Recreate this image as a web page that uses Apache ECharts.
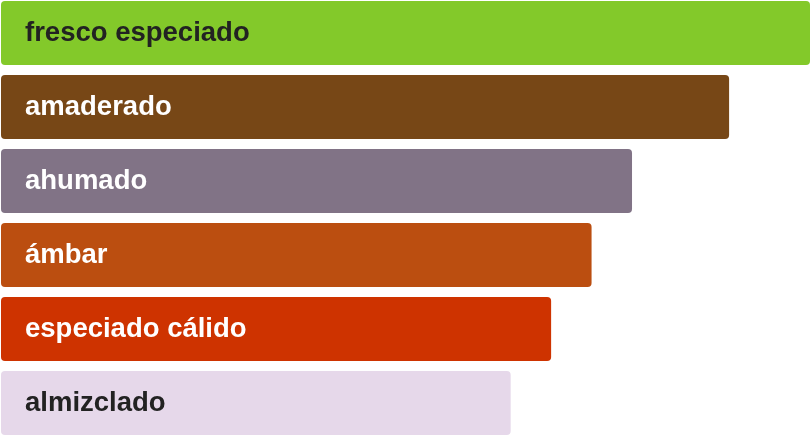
<!DOCTYPE html>
<html>
<head>
<meta charset="utf-8">
<title>aromas</title>
<script src="https://cdn.jsdelivr.net/npm/echarts@6/dist/echarts.min.js"></script>
<style>
    html, body { margin: 0; padding: 0; background: #fff; }
    #chart { width: 810px; height: 435px; }
</style>
</head>
<body>
<div id="chart"></div>
<script>
var categories = ['fresco especiado', 'amaderado', 'ahumado', 'ámbar', 'especiado cálido', 'almizclado'];
var values = [100, 90, 78, 73, 68, 63];
var barColors = ['#83c92a', '#774716', '#817386', '#bb4e10', '#ce3300', '#e6d8ea'];
var labelColors = ['#222222', '#ffffff', '#ffffff', '#ffffff', '#ffffff', '#222222'];

var drawChart = function () {
    var myChart = echarts.init(document.getElementById('chart'));

    var seriesData = [];
    for (var i = 0; i < values.length; i++) {
        seriesData.push({
            value: values[i],
            itemStyle: { color: barColors[i] },
            label: { color: labelColors[i] }
        });
    }

    // bands run a bit past the canvas top and bottom, so no clamping to the outer bounds
    var option = {
        animation: false,
        grid: {
            left: 1, right: 0, top: -4, height: 444,
            containLabel: false,
            outerBoundsMode: 'none'
        },
        xAxis: {
            type: 'value',
            min: 0,
            max: 100,
            show: false
        },
        yAxis: {
            type: 'category',
            data: categories,
            inverse: true,
            show: false
        },
        series: [
            {
                type: 'bar',
                data: seriesData,
                barWidth: 64,
                itemStyle: { borderRadius: 4 },
                label: {
                    show: true,
                    position: 'insideLeft',
                    distance: 24,
                    formatter: '{b}',
                    fontFamily: 'Liberation Sans, Arial, sans-serif',
                    fontWeight: 'bold',
                    fontSize: 27.5
                }
            }
        ]
    };
    myChart.setOption(option);
};

drawChart();
</script>
</body>
</html>
